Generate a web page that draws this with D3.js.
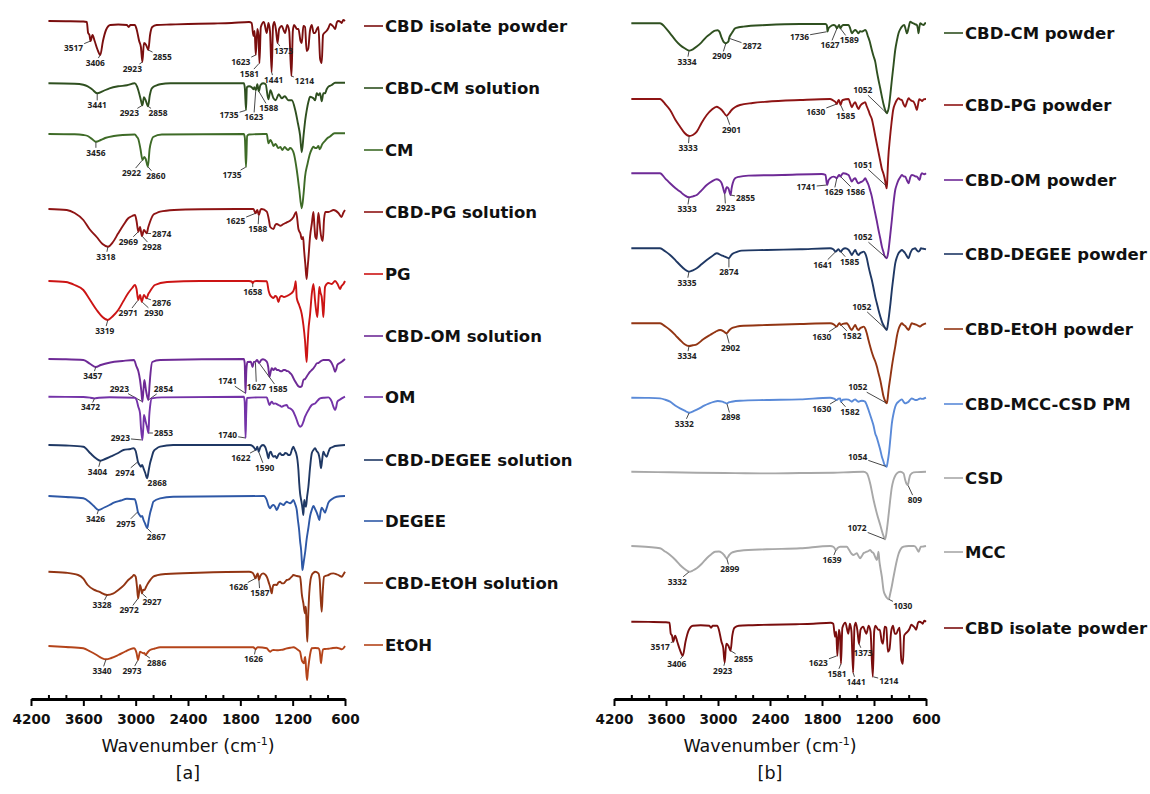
<!DOCTYPE html>
<html><head><meta charset="utf-8">
<script src="https://cdn.jsdelivr.net/npm/d3@7"></script>
<style>
body{margin:0;background:#fff}
.pk{font-family:"Open Sans",sans-serif;font-weight:700;font-size:8.4px;fill:#222}
.lg{font-family:"DejaVu Sans",sans-serif;font-weight:700;font-size:16.5px;fill:#111}
.tk text{font-family:"DejaVu Sans",sans-serif;font-weight:700;font-size:13.6px;fill:#111}
.ttl{font-family:"DejaVu Sans",sans-serif;font-size:17.5px;fill:#111}
</style>
</head><body><svg id="c" width="1150" height="794"></svg>
<script>
// ---------- DATA (wavenumber cm-1, relative transmittance a.u.) ----------
const tickLabels = [4200,3600,3000,2400,1800,1200,600];
const minorTicks = [4000,3800,3400,3200,2800,2600,2200,2000,1600,1400,1000,800];

const isolatePowder = [[4000,100],[3800,99.8],[3600,99.5],[3560,99],[3545,88],[3530,86],[3517,80],[3495,86],[3470,80],[3440,72],[3406,66],[3375,80],[3340,91],[3290,96],[3200,96.5],[3100,96],[3080,94],[3060,96],[3010,96],[2990,92],[2960,80],[2940,74],[2923,59],[2905,78],[2880,76],[2855,71],[2835,86],[2810,94],[2760,96],[2600,96.5],[2400,97],[2100,97.5],[1900,98],[1700,99],[1670,98],[1650,85],[1636,90],[1623,66],[1605,92],[1592,86],[1581,58],[1565,94],[1530,99],[1497,88],[1478,98],[1460,90],[1441,49],[1425,95],[1410,99],[1390,90],[1373,78],[1355,92],[1325,95],[1300,90],[1287,88],[1262,96],[1240,90],[1214,45],[1198,90],[1184,96],[1150,92],[1134,92],[1110,80],[1096,78],[1077,95],[1058,94],[1040,70],[1022,72],[1002,90],[981,96],[960,88],[943,88],[922,92],[905,94],[885,62],[867,58],[852,86],[838,88],[812,90],[790,93],[770,97],[752,96],[730,94],[714,92],[692,99],[676,100],[650,99],[637,98],[620,101],[600,100]];
const cmSolution = [[4000,100],[3700,99.5],[3600,98.5],[3550,97],[3500,94],[3441,90],[3380,92],[3300,95],[3200,97],[3100,98],[3010,100],[2985,97],[2960,90],[2940,83],[2923,78],[2905,86],[2885,83],[2858,77],[2838,88],[2815,95],[2760,98],[2720,99],[2600,100],[1760,100],[1748,95],[1735,73],[1725,96],[1700,97],[1670,96],[1650,94],[1640,96],[1623,93],[1605,99],[1588,92],[1570,98],[1540,100],[1510,99],[1478,84],[1455,93],[1420,85],[1395,83],[1360,89],[1325,85],[1290,87],[1250,83],[1210,83],[1170,73],[1140,60],[1115,48],[1096,31],[1075,48],[1055,64],[1039,73],[1018,82],[1000,86.6],[981,86],[962,85],[943,83],[924,90],[905,88],[886,90],[867,82],[848,90],[829,90],[810,94],[790,96.6],[752,98.3],[714,100.6],[600,100.6]];
const cm = [[4000,100],[3700,99.7],[3600,99],[3550,98],[3500,95],[3456,92.3],[3400,94],[3350,96],[3250,98],[3150,99],[3010,99.5],[2985,97],[2970,95],[2945,85],[2922,74],[2900,77],[2885,75],[2860,67.3],[2840,85],[2820,93],[2800,97],[2700,99.5],[1760,100],[1748,96],[1735,67],[1722,98],[1700,99.5],[1530,100],[1497,100],[1478,90.7],[1455,94],[1430,90],[1420,88],[1395,90],[1365,86],[1340,87],[1320,84],[1290,87],[1270,85],[1250,84],[1230,86],[1210,85],[1185,80],[1153,64],[1125,45],[1096,25.7],[1075,40],[1058,57.3],[1030,70],[1000,80.7],[980,85],[962,87.3],[943,86],[925,86],[905,88],[890,84.7],[860,90],[830,93],[800,96],[775,97.3],[720,100.7],[600,100.7]];
const pgSolution = [[4000,100],[3790,99],[3700,96],[3600,89],[3530,80],[3447,72],[3380,65],[3318,62.3],[3260,67],[3200,75.7],[3140,84],[3085,90.7],[3040,93],[3008,94],[2990,88],[2969,77.3],[2950,82],[2928,73],[2905,79],[2874,75.7],[2855,82],[2840,86],[2800,94],[2760,96],[2720,97.3],[2560,99],[2250,99.7],[1650,100],[1625,95.7],[1605,99],[1588,94],[1570,99],[1555,100],[1497,97.3],[1470,88],[1459,82.3],[1420,80],[1400,84],[1382,85],[1344,83.3],[1305,85],[1268,86.7],[1230,88.3],[1192,91.7],[1160,97],[1134,80],[1110,75],[1096,70],[1080,72],[1070,60],[1055,45],[1040,30],[1030,40],[1020,50],[1000,73],[981,85],[962,97],[952,85],[940,72],[925,70],[915,85],[905,96],[895,90],[885,80],[867,70],[855,68],[840,90],[825,97],[790,97],[730,99],[676,96],[640,92],[620,96],[600,99]];
const pg = [[4000,100],[3800,99],[3700,96],[3600,91],[3530,82],[3447,71],[3380,64],[3319,61],[3260,65],[3200,71],[3140,80],[3085,88],[3040,93],[3008,96],[2990,92],[2971,81],[2950,86],[2930,79.3],[2905,86],[2876,82.7],[2855,87],[2840,89],[2780,96],[2640,99],[2260,100],[1700,100],[1670,99.5],[1658,98],[1645,99.5],[1620,100],[1497,99.7],[1475,90],[1459,86],[1440,84],[1420,83],[1400,85],[1382,84],[1363,79],[1345,84],[1325,85],[1300,84],[1268,85],[1230,86.7],[1192,90],[1175,95],[1165,99.7],[1153,83],[1126,76],[1096,67],[1077,56],[1058,40],[1040,19],[1030,35],[1020,50],[1000,67],[981,87],[962,97],[943,80],[930,70],[917,64],[905,80],[894,94],[880,88],[867,84],[858,75],[848,64],[838,80],[829,94],[810,97],[790,98],[752,97],[714,100],[685,97],[657,92],[640,95],[618,97],[600,100]];
const omSolution = [[4000,100],[3800,99.8],[3600,99],[3520,95],[3457,92],[3400,94],[3290,96.5],[3150,98],[3020,99],[2990,92.3],[2970,88],[2950,79],[2935,68],[2923,57.3],[2910,70],[2900,79],[2880,67.7],[2854,59],[2840,75],[2830,85.7],[2810,97],[2720,99],[1760,100],[1750,96],[1741,65.7],[1730,90],[1718,97],[1680,97.3],[1660,92],[1645,97],[1627,97.3],[1608,99],[1585,96],[1560,99],[1540,99.7],[1497,97.3],[1480,92],[1466,82.3],[1450,88],[1440,90.7],[1420,89],[1400,90.7],[1380,89],[1363,89],[1345,88],[1325,87.7],[1305,89],[1287,89],[1268,88],[1249,87.7],[1230,86],[1211,84.3],[1192,81],[1172,77.7],[1153,75],[1134,72.7],[1115,72],[1096,72.7],[1077,79],[1058,80],[1040,82.3],[1020,85],[1000,87.3],[981,89],[962,90.7],[943,93],[924,95.7],[905,96],[886,97.3],[848,99],[790,99],[770,98],[752,95.7],[733,92],[714,87.3],[700,90],[688,94],[660,96],[637,97.3],[600,100]];
const om = [[4000,100],[3800,99.8],[3600,99.7],[3520,99],[3472,98.3],[3420,99],[3300,99.5],[3010,99],[2990,96.7],[2970,90],[2950,83.4],[2940,70],[2923,56.7],[2912,70],[2905,81.7],[2885,75],[2870,70],[2853,63.7],[2845,80],[2835,90],[2815,98.3],[2700,99.3],[1760,100],[1750,95],[1740,58.7],[1732,85],[1725,98.7],[1600,99.3],[1497,99.3],[1480,95],[1467,91.7],[1450,94],[1440,95],[1420,93],[1400,93.3],[1380,92.5],[1363,91.7],[1345,91],[1325,90],[1300,91],[1268,91.7],[1250,89],[1230,88.3],[1210,87],[1192,85],[1172,81],[1153,76.7],[1134,72],[1115,70],[1096,71],[1077,75],[1058,80],[1040,83.3],[1010,88],[981,91.7],[962,92.5],[943,93.3],[915,96],[886,98.3],[840,99],[790,99.3],[770,98],[752,95],[733,90],[714,86.7],[700,90],[688,95],[660,97],[637,98.3],[600,100]];
const degeeSolution = [[4000,100],[3800,99.5],[3600,98.3],[3520,91.7],[3460,87],[3404,84.3],[3350,86],[3290,88.3],[3200,92],[3140,95],[3060,96],[3025,96.7],[3000,94],[2985,88],[2974,83.3],[2955,80],[2940,78.3],[2925,80],[2910,76.7],[2890,72],[2868,66.7],[2850,75],[2835,81.7],[2815,88],[2797,93.3],[2760,96.5],[2720,98.3],[2570,100],[1690,100],[1660,99],[1640,97],[1622,95],[1605,98.3],[1590,93.3],[1570,98],[1540,100],[1515,98],[1497,93.3],[1478,86.7],[1465,92],[1451,93.3],[1435,90],[1420,88.3],[1400,89],[1382,86.7],[1365,90],[1344,91.7],[1325,90],[1305,90],[1285,92],[1268,91.7],[1250,90],[1230,90],[1210,95],[1192,98.3],[1175,95],[1160,91.7],[1145,85],[1134,75],[1125,62],[1115,51.7],[1105,46],[1096,41.7],[1085,35],[1077,30],[1071,40],[1066,45],[1058,40],[1047,38.3],[1035,48],[1020,58],[1000,78],[981,91.7],[962,95],[943,96.7],[925,94],[905,91.7],[890,86],[875,76.7],[862,85],[848,93.3],[829,90],[810,88.3],[790,93],[771,96.7],[740,98],[714,99],[600,100]];
const degee = [[4000,100],[3800,99],[3600,97.7],[3530,94],[3480,90],[3426,86],[3360,88.5],[3300,91],[3250,93.3],[3170,95.5],[3100,97.3],[3010,96.7],[2990,91],[2975,84.3],[2955,81],[2940,79.3],[2925,80],[2910,76],[2890,72],[2867,67.7],[2850,76],[2835,82.7],[2815,89],[2797,94.3],[2720,97.7],[2570,99.3],[1530,100],[1515,99],[1497,96],[1480,91],[1459,87.7],[1440,90],[1420,91],[1400,89],[1382,86],[1360,90],[1344,92.7],[1325,92],[1305,91],[1285,93],[1268,94.3],[1250,93.5],[1230,92.7],[1210,94],[1192,96],[1172,92],[1153,86],[1140,76],[1126,66],[1115,55],[1103,46],[1095,35],[1088,26],[1080,30],[1070,36],[1055,45],[1040,56.7],[1020,68],[1000,80],[981,86],[962,90],[943,87],[924,83.3],[910,80],[894,76],[880,84],[867,88.3],[848,86],[829,83.3],[810,88],[790,93.3],[752,96.7],[695,99.3],[600,100]];
const etohSolution = [[4000,100],[3800,99],[3660,96.7],[3600,93],[3550,86.7],[3480,82],[3420,80],[3328,76.7],[3260,78],[3200,81.7],[3140,86],[3085,91.7],[3040,95],[3020,96.7],[3000,95],[2985,85],[2972,73.3],[2960,80],[2950,86.7],[2940,84],[2927,78.3],[2915,82],[2900,81.7],[2880,85],[2860,88.3],[2830,92],[2800,95],[2750,96.5],[2650,97.7],[2280,99],[1700,100],[1660,99],[1640,96],[1626,93.3],[1610,97],[1600,98.3],[1587,91.7],[1570,96],[1540,98.3],[1497,95],[1470,88],[1459,85],[1440,78.3],[1430,84],[1420,86.7],[1400,87],[1382,86.7],[1365,89],[1344,90],[1325,88.5],[1305,88.3],[1285,90],[1268,91.7],[1250,92],[1230,93.3],[1210,95],[1192,96.7],[1153,95.7],[1115,95],[1105,88],[1096,78.3],[1085,72],[1077,68.3],[1068,62],[1058,58.3],[1052,65],[1047,61.7],[1040,45],[1032,30],[1022,55],[1010,78.3],[995,92],[981,96.7],[960,99],[943,100],[905,98.3],[890,92],[880,75],[867,60],[855,80],[840,95],[815,96],[790,96.7],[760,98],[733,98.3],[700,97.5],[676,96.7],[655,95.5],[637,95],[620,97],[600,100]];
const etoh = [[4000,100],[3800,99],[3600,97.7],[3520,94.5],[3447,91],[3390,88],[3340,86.7],[3280,88],[3200,91],[3120,94.5],[3066,96.7],[3020,97.7],[2990,93],[2973,86],[2962,90],[2950,94.3],[2930,93.5],[2912,92.7],[2900,93],[2886,91],[2860,94],[2835,96],[2780,97.5],[2720,98.7],[2260,98.7],[1650,98.7],[1640,98],[1626,96.7],[1610,98.3],[1600,98.7],[1497,97.7],[1475,95.5],[1459,94.3],[1440,95.5],[1420,96],[1380,95.7],[1344,96],[1305,96.5],[1268,97.7],[1230,98.2],[1192,98.7],[1153,97],[1130,95.5],[1115,94.3],[1105,90],[1096,86],[1082,83.5],[1070,82.7],[1062,88],[1055,89],[1045,75],[1035,66],[1025,75],[1010,86],[995,94],[981,97.7],[943,98],[905,97.7],[890,95],[880,86],[875,82.7],[865,90],[852,96.7],[830,97],[790,97.3],[740,98],[695,98.3],[660,97.5],[637,96.7],[615,98],[600,100]];

const cmPowder = [[4000,100],[3800,100],[3669,100],[3610,96],[3553,90],[3490,83],[3438,78.3],[3385,75],[3334,72.7],[3290,74],[3245,76.7],[3190,81],[3130,86.7],[3080,90],[3034,92.7],[3005,93],[2984,91.7],[2960,86],[2937,81.7],[2909,80],[2890,81],[2880,81.7],[2872,85],[2850,89],[2830,91.7],[2803,95],[2760,96],[2707,96.7],[2437,98.3],[2052,99.3],[1760,99.3],[1744,98],[1736,91.7],[1725,95],[1706,96.7],[1667,98.3],[1645,97.5],[1627,95],[1610,97.5],[1602,98.3],[1589,95],[1570,97.5],[1552,98.3],[1494,98.3],[1475,95],[1456,90],[1436,92],[1417,93.3],[1398,92],[1379,90],[1360,92],[1340,91.7],[1321,92.5],[1302,93.3],[1288,92],[1275,88.3],[1250,82],[1225,73.3],[1205,67],[1186,61.7],[1167,52],[1148,43.3],[1128,35],[1109,26.7],[1090,19],[1071,13.3],[1052,10],[1040,12],[1028,16.7],[1010,30],[994,43.3],[975,58],[955,73.3],[935,83],[917,90],[898,94],[878,96.7],[851,98.3],[835,94],[820,90],[800,96],[782,101.7],[760,100.5],[744,100],[724,99],[705,98.3],[695,95],[686,90],[675,97],[667,100],[648,99],[628,98.3],[610,100],[600,100]];
const pgPowder = [[4000,100],[3800,100],[3669,100],[3610,95],[3553,89],[3490,79],[3438,72.3],[3385,66],[3333,63],[3290,64],[3245,67.3],[3190,76],[3130,84],[3070,89.5],[3015,92.3],[2985,91],[2957,89],[2930,86],[2901,83.3],[2870,86],[2843,89],[2800,92],[2746,94],[2600,96],[2437,97.3],[2052,99],[1706,100],[1660,98],[1645,97],[1630,95],[1615,98],[1605,99],[1585,94],[1570,98],[1560,99],[1494,100],[1475,96],[1456,91.7],[1436,95],[1417,96.7],[1398,93],[1379,90],[1360,93],[1340,95],[1321,96],[1302,96.7],[1285,93],[1263,88.3],[1245,84],[1225,80],[1205,72],[1186,63.3],[1167,55],[1148,46.7],[1128,38],[1109,30],[1090,25],[1071,18],[1062,13],[1052,10.7],[1044,25],[1036,40],[1017,60],[998,76],[979,89],[955,95.7],[936,99],[917,100.7],[898,99.5],[878,99],[860,95],[840,92.3],[820,97],[801,100.7],[780,99],[760,98],[744,97.3],[725,94],[705,89],[695,93],[678,99.7],[660,99],[645,98],[628,99.7],[600,100]];
const omPowder = [[4000,100],[3800,100],[3669,100],[3610,95],[3553,90],[3490,85],[3438,81.7],[3385,78],[3333,76],[3290,77],[3245,78.3],[3190,83],[3130,88.3],[3070,92],[3015,94],[2985,93],[2957,90],[2940,85],[2923,80],[2900,86],[2880,85],[2855,78.3],[2843,85],[2830,90],[2803,95],[2760,96.5],[2649,97.7],[2264,98.3],[1803,99.3],[1760,98.5],[1741,88.3],[1725,93],[1706,95],[1667,96.7],[1645,96],[1629,95],[1615,97],[1602,98.3],[1586,96.7],[1570,99],[1552,100],[1494,98.3],[1475,95],[1456,91.7],[1436,94],[1417,95],[1398,92],[1379,90],[1360,91],[1340,91.7],[1321,93],[1302,95],[1283,92],[1263,88.3],[1245,83],[1225,76.7],[1205,68],[1186,60],[1167,52],[1148,43.3],[1128,35],[1109,26.7],[1090,21],[1082,18.3],[1068,16],[1052,15],[1042,18],[1032,23.3],[1013,38],[994,53.3],[975,70],[955,83.3],[936,89],[917,93.3],[898,96],[878,98.3],[860,97],[840,96.7],[820,93],[801,90],[782,96],[763,98.3],[744,98],[724,97],[705,96.7],[690,95],[674,93.3],[660,98],[648,100],[620,99],[600,100]];
const degeePowder = [[4000,100],[3800,100],[3669,100],[3610,97],[3553,93.3],[3490,88],[3438,83.3],[3385,79],[3335,76.7],[3290,78],[3245,80],[3190,84],[3130,88.3],[3070,92],[3015,95],[2960,93],[2930,92],[2900,91],[2874,90],[2850,93],[2822,95],[2780,96.5],[2727,97.7],[2437,98.3],[2052,99],[1706,100],[1670,99],[1641,96.7],[1625,98],[1610,99],[1585,96.7],[1560,99],[1533,100],[1494,98.5],[1475,96],[1456,93.3],[1436,96],[1417,98.3],[1398,95],[1379,93.3],[1360,95],[1340,96],[1321,96.7],[1302,95],[1283,90],[1263,81.7],[1245,75],[1225,68.3],[1205,60],[1186,51.7],[1167,45],[1148,38.3],[1128,32],[1109,26.7],[1090,23],[1070,20],[1052,18.3],[1040,24],[1028,31.7],[1010,45],[994,58.3],[975,72],[955,85],[936,91],[917,95],[898,97],[878,98.3],[860,97],[840,95],[820,92],[801,90],[782,95],[763,98.3],[744,99.5],[724,100],[705,98],[686,96.7],[670,98],[659,100],[630,99.5],[600,99]];
const etohPowder = [[4000,100],[3800,100],[3669,100],[3610,97],[3553,93.3],[3490,88],[3438,83.3],[3385,79],[3334,77.3],[3290,78],[3245,79],[3170,84],[3092,88.3],[3030,91.5],[2976,93.3],[2935,92],[2902,90],[2870,93],[2843,95],[2790,96.5],[2746,97.3],[2437,98.3],[2052,99.3],[1706,100],[1665,99],[1630,96.7],[1612,99],[1598,100],[1582,98.3],[1560,99.5],[1513,100],[1494,98],[1475,95],[1456,93.3],[1436,96],[1417,98.3],[1398,95],[1379,93.3],[1360,95],[1340,96],[1321,96.7],[1302,95],[1283,90],[1263,83],[1244,76.7],[1225,71],[1205,66],[1186,62],[1167,56.7],[1148,50],[1128,43.3],[1109,35],[1090,26.7],[1070,22],[1052,20],[1042,25],[1032,33.3],[1013,45],[994,56.7],[975,67],[955,76.7],[936,87],[917,94],[898,98],[878,100],[860,98.5],[840,97.3],[820,95],[801,93.3],[782,97],[763,100],[744,99.5],[724,99],[705,98.3],[686,97.5],[667,96.7],[650,98],[630,99],[600,100]];
const mccCsdPm = [[4000,100],[3800,99.8],[3669,99.3],[3610,98],[3553,96],[3490,92],[3438,89.3],[3385,87],[3332,85],[3270,87],[3215,89.3],[3160,92],[3100,94.3],[3050,95.8],[3003,96.7],[2950,96],[2920,95],[2898,94.3],[2870,95.5],[2843,96],[2746,97],[2437,97.7],[2052,98.3],[1706,100],[1660,99],[1630,97.7],[1610,99],[1590,99.3],[1582,96],[1560,98],[1521,98.3],[1494,98],[1475,97],[1456,96],[1436,97.5],[1417,98.3],[1398,97],[1379,96],[1360,96.5],[1340,97],[1321,96.7],[1302,96],[1283,92.5],[1263,87.7],[1245,83],[1225,77.7],[1205,72],[1186,64.3],[1167,60],[1148,54.3],[1128,48],[1109,41],[1090,36],[1080,33],[1066,32],[1054,31],[1042,36],[1028,44.3],[1010,60],[994,74.3],[975,84],[955,91],[936,94.5],[917,96],[898,97.5],[878,98.3],[860,96],[840,94.3],[820,95],[801,96],[782,98],[763,99.3],[744,98.5],[724,97.7],[705,97.7],[686,98.5],[667,99.3],[650,98.8],[630,99],[600,100]];
const csd = [[4000,100],[3700,99.6],[3250,99],[2800,98.6],[2437,98.3],[2052,98.7],[1667,99],[1494,99.5],[1321,100],[1282,98.3],[1244,88.3],[1205,71.7],[1167,58.3],[1128,46.7],[1090,35.7],[1072,32.4],[1052,41.7],[1030,58],[1013,71.7],[995,84],[975,91.7],[955,96],[936,98.3],[898,100],[859,98.3],[840,91.7],[825,88],[809,86.7],[796,92],[782,96.7],[744,99.3],[700,99.6],[600,100]];
const mcc = [[4000,100],[3800,99],[3669,97.7],[3610,94.5],[3553,91],[3490,86],[3438,81],[3385,77],[3332,74.3],[3290,75.5],[3245,77.7],[3190,82],[3130,87.7],[3080,91.5],[3034,94.3],[2990,94.5],[2957,93.3],[2930,91],[2899,87.7],[2870,91],[2843,93.3],[2800,94.5],[2746,95.3],[2437,96.7],[2052,97.7],[1706,100],[1665,99],[1639,96],[1620,98],[1590,99.3],[1513,99.3],[1494,97],[1475,94.3],[1456,92],[1437,91],[1417,92],[1398,92.7],[1379,90],[1360,87.7],[1340,90],[1321,92.7],[1302,93.5],[1282,94.3],[1263,95],[1244,96],[1225,94],[1205,92.7],[1186,89],[1167,86],[1157,90],[1148,94.3],[1138,85],[1128,79],[1109,69],[1090,55.7],[1071,51],[1050,48],[1030,46.7],[1013,52.3],[994,60],[975,69],[955,78],[936,85.7],[917,92],[898,96],[878,98.5],[859,99.3],[801,100],[744,100],[724,99.5],[705,97],[686,94.3],[672,97],[659,99.3],[630,99.5],[600,100]];

// ---------- LAYOUT ----------
const panels = [
 {x0:31, x1:345, axisY:699, legendX:364, caption:"[a]", series:[
  {name:"CBD isolate powder", data:isolatePowder, color:"#7a0e0e", base:21, ly:26,
   peaks:[[3517,-17,7],[3406,-5,8],[2923,-10,7],[2855,14,7],[1623,-15,7],[1581,-10,11],[1441,2,8],[1373,6,8],[1214,13,5]]},
  {name:"CBD-CM solution", data:cmSolution, color:"#2f5020", base:83.3, ly:88,
   peaks:[[3441,0,12],[2923,-13,8],[2858,10,7],[1735,-17,5],[1623,-2,27],[1588,10,17]]},
  {name:"CM", data:cm, color:"#3e6b27", base:134, ly:150,
   peaks:[[3456,0,11],[2922,-11,13],[2860,8,9],[1735,-14,8]]},
  {name:"CBD-PG solution", data:pgSolution, color:"#8e1414", base:209, ly:212,
   peaks:[[3318,-2,10],[2969,-10,10],[2928,10,11],[2874,15,1],[1625,-20,8],[1588,-1,14]]},
  {name:"PG", data:pg, color:"#cc1414", base:281, ly:274,
   peaks:[[3319,-3,11],[2971,-10,13],[2930,12,11],[2876,15,5],[1658,0,9]]},
  {name:"CBD-OM solution", data:omSolution, color:"#6e2a96", base:359, ly:336,
   peaks:[[3457,-3,9],[2923,-23,-13],[2854,15,-11],[1741,-18,-12],[1627,1,25],[1585,19,26]]},
  {name:"OM", data:om, color:"#7433a8", base:396.7, ly:397,
   peaks:[[3472,-4,9],[2923,-22,-2],[2853,15,0],[1740,-18,-3]]},
  {name:"CBD-DEGEE solution", data:degeeSolution, color:"#1f3864", base:445, ly:460,
   peaks:[[3404,-3,11],[2974,-13,11],[2868,10,5],[1622,-15,8],[1590,6,16]]},
  {name:"DEGEE", data:degee, color:"#2e58a6", base:496, ly:521,
   peaks:[[3426,-3,9],[2975,-12,12],[2867,9,9]]},
  {name:"CBD-EtOH solution", data:etohSolution, color:"#923513", base:571.7, ly:583,
   peaks:[[3328,-5,10],[2972,-9,12],[2927,10,9],[1626,-17,9],[1587,1,13]]},
  {name:"EtOH", data:etoh, color:"#b4441a", base:646, ly:645,
   peaks:[[3340,-4,12],[2973,-6,11],[2886,11,8],[1626,-2,10]]}
 ]},
 {x0:614, x1:926, axisY:699, legendX:944, caption:"[b]", series:[
  {name:"CBD-CM powder", data:cmPowder, color:"#2f5020", base:23.3, ly:33,
   peaks:[[3334,-2,11],[2909,-4,13],[2872,23,8],[1736,-28,5],[1627,-7,17],[1589,9,12],[1052,-24,-23]]},
  {name:"CBD-PG powder", data:pgPowder, color:"#8e1414", base:99, ly:105,
   peaks:[[3333,-1,12],[2901,5,14],[1630,-21,8],[1585,5,11],[1051,-24,-22]]},
  {name:"CBD-OM powder", data:omPowder, color:"#6e2a96", base:173.3, ly:180,
   peaks:[[3333,-2,12],[2923,1,15],[2855,15,3],[1741,-21,2],[1629,-3,14],[1586,15,15],[1052,-24,-21]]},
  {name:"CBD-DEGEE powder", data:degeePowder, color:"#1f3864", base:248.3, ly:254,
   peaks:[[3335,-2,11],[2874,0,14],[1641,-13,13],[1585,9,10],[1052,-25,-23]]},
  {name:"CBD-EtOH powder", data:etohPowder, color:"#923513", base:323.3, ly:329,
   peaks:[[3334,-2,10],[2902,4,15],[1630,-15,10],[1582,11,11],[1052,-29,-16]]},
  {name:"CBD-MCC-CSD PM", data:mccCsdPm, color:"#5a8ad8", base:397.7, ly:404,
   peaks:[[3332,-5,11],[2898,4,14],[1630,-15,9],[1582,9,10],[1054,-29,-10]]},
  {name:"CSD", data:csd, color:"#a8a8a8", base:471.7, ly:478,
   peaks:[[1072,-28,-11],[809,7,15]]},
  {name:"MCC", data:mcc, color:"#a8a8a8", base:546, ly:552,
   peaks:[[3332,-12,10],[2899,3,11],[1639,-4,10],[1030,14,7]]},
  {name:"CBD isolate powder", data:isolatePowder, color:"#7a0e0e", base:621.7, ly:628,
   peaks:[[3517,-13,5],[3406,-6,8],[2923,-2,8],[2855,13,8],[1623,-19,7],[1581,-4,10],[1441,3,9],[1373,4,9],[1214,16,4]]}
 ]}
];

const svg = d3.select("#c");
svg.append("rect").attr("width",1150).attr("height",794).attr("fill","#fff");

function valueAt(data, w){
  for (let i=0;i<data.length-1;i++){
    const a=data[i], b=data[i+1];
    if (w<=a[0] && w>=b[0]) { const t=(a[0]-w)/(a[0]-b[0]); return a[1]+t*(b[1]-a[1]); }
  }
  return data[data.length-1][1];
}

panels.forEach(p=>{
  const x = d3.scaleLinear().domain([4200,600]).range([p.x0,p.x1]);
  const g = svg.append("g");
  p.series.forEach(s=>{
    const y = d3.scaleLinear().domain([100,0]).range([s.base, s.base+100]);
    const line = d3.line().x(d=>x(d[0])).y(d=>y(d[1])).curve(d3.curveMonotoneX);
    g.append("path").datum(s.data).attr("d",line).attr("fill","none")
      .attr("stroke",s.color).attr("stroke-width",1.9).attr("stroke-linejoin","round");
    const ann = g.append("g");
    s.peaks.forEach(([w,dx,dy])=>{
      const px=x(w), py=y(valueAt(s.data,w));
      const tx=px+dx, ty=py+dy;
      ann.append("text").attr("class","pk").attr("x",tx).attr("y",ty).attr("dy","0.36em")
        .attr("text-anchor","middle").text(w);
      const hw = (String(w).length*4.8)/2+1, hh=4.9;
      const vx=px-tx, vy=py-ty;
      const t = Math.min(vx===0?Infinity:hw/Math.abs(vx), vy===0?Infinity:hh/Math.abs(vy));
      if (t<0.92){
        ann.append("line").attr("x1",tx+vx*t).attr("y1",ty+vy*t).attr("x2",px-vx*0.03).attr("y2",py-vy*0.03)
          .attr("stroke","#333").attr("stroke-width",0.9);
      }
    });
    // legend entry
    g.append("line").attr("x1",p.legendX).attr("x2",p.legendX+19).attr("y1",s.ly).attr("y2",s.ly)
      .attr("stroke",s.color).attr("stroke-width",1.6);
    g.append("text").attr("class","lg").attr("x",p.legendX+21).attr("y",s.ly).attr("dy","0.36em").text(s.name);
  });
  // axis
  const ag = svg.append("g").attr("class","tk").attr("transform",`translate(0,${p.axisY})`);
  const axB = d3.axisBottom(x).tickValues(tickLabels).tickSize(7).tickSizeOuter(0).tickPadding(8).tickFormat(d3.format("d"));
  ag.call(axB);
  ag.select(".domain").attr("stroke","#000").attr("stroke-width",3);
  ag.selectAll(".tick line").attr("stroke","#000").attr("stroke-width",2);
  const agT = svg.append("g").attr("transform",`translate(0,${p.axisY})`);
  agT.call(d3.axisTop(x).tickValues(tickLabels).tickSize(7).tickSizeOuter(0).tickFormat(""));
  agT.call(d3.axisTop(x).tickValues(minorTicks).tickSize(4).tickSizeOuter(0).tickFormat(""));
  agT.selectAll(".domain").remove();
  agT.selectAll(".tick line").attr("stroke","#000").attr("stroke-width",2);
  const cx=(p.x0+p.x1)/2;
  const tt = svg.append("text").attr("class","ttl").attr("x",cx).attr("y",752).attr("text-anchor","middle");
  tt.append("tspan").text("Wavenumber (cm");
  tt.append("tspan").attr("dy",-7).attr("font-size","11px").text("-1");
  tt.append("tspan").attr("dy",7).text(")");
  svg.append("text").attr("class","ttl").attr("x",cx).attr("y",779).attr("text-anchor","middle").attr("font-size","18px").text(p.caption);
});
</script>
</body></html>
